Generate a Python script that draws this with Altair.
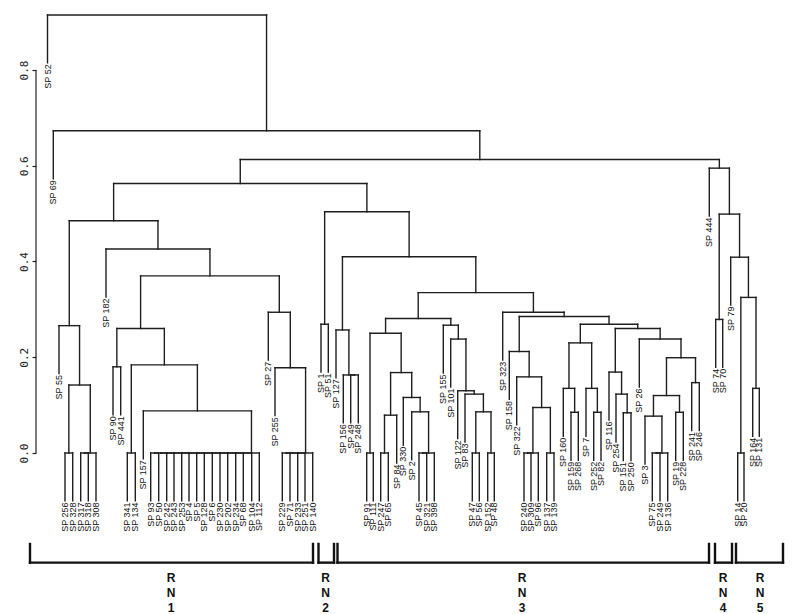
import altair as alt
import pandas as pd

# ---------------- data ----------------
leaf_names = [
    "SP 52", "SP 69", "SP 55", "SP 256", "SP 328", "SP 317", "SP 318", "SP 308",
    "SP 182", "SP 90", "SP 441", "SP 341", "SP 134", "SP 157", "SP 93", "SP 50",
    "SP 242", "SP 243", "SP 253", "SP 4", "SP 5", "SP 128", "SP 6", "SP 230",
    "SP 202", "SP 234", "SP 68", "SP 104", "SP 112", "SP 27", "SP 255", "SP 229",
    "SP 71", "SP 233", "SP 251", "SP 140", "SP 1", "SP 51", "SP 127", "SP 156",
    "SP 49", "SP 248", "SP 91", "SP 111", "SP 247", "SP 65", "SP 84", "SP 330",
    "SP 2", "SP 45", "SP 321", "SP 398", "SP 155", "SP 101", "SP 122", "SP 83",
    "SP 47", "SP 56", "SP 152", "SP 48", "SP 323", "SP 158", "SP 322", "SP 240",
    "SP 309", "SP 96", "SP 137", "SP 139", "SP 160", "SP 159", "SP 268", "SP 7",
    "SP 252", "SP 82", "SP 116", "SP 254", "SP 151", "SP 250", "SP 26", "SP 3",
    "SP 75", "SP 249", "SP 136", "SP 19", "SP 228", "SP 241", "SP 246", "SP 444",
    "SP 74", "SP 70", "SP 79", "SP 14", "SP 20", "SP 164", "SP 131",
]
leaf_pos = [
    47.5, 53.3, 59.0, 65.0, 72.7, 80.7, 88.3, 96.0,
    106.0, 113.0, 120.7, 127.3, 135.3, 143.3, 150.7, 158.7,
    166.7, 174.0, 181.7, 189.0, 196.7, 204.3, 212.3, 220.0,
    227.7, 235.7, 243.3, 251.7, 259.3, 268.3, 275.0, 282.3,
    290.0, 297.7, 305.0, 312.7, 321.0, 328.3, 336.0, 343.3,
    350.7, 358.3, 366.7, 373.3, 380.7, 388.3, 396.7, 403.3,
    411.7, 419.0, 426.7, 434.3, 443.3, 450.7, 457.7, 465.0,
    472.3, 479.3, 487.7, 494.3, 502.7, 509.3, 516.7, 524.0,
    531.0, 538.3, 546.7, 554.0, 563.3, 571.0, 578.3, 586.0,
    593.7, 601.0, 609.0, 616.0, 623.3, 631.0, 639.3, 645.0,
    652.3, 660.0, 667.7, 675.7, 683.3, 691.7, 699.3, 709.3,
    715.7, 722.7, 730.7, 737.7, 744.0, 752.7, 759.3,
]

# merges: (node, left child, right child, height)
merges = [
    ("A1", "SP 256", "SP 328", 0.0),
    ("A2", "SP 317", "SP 318", 0.0),
    ("A3", "A2", "SP 308", 0.0),
    ("A4", "A1", "A3", 0.142),
    ("A5", "SP 55", "A4", 0.266),
    ("A6", "SP 90", "SP 441", 0.180),
    ("A7", "SP 341", "SP 134", 0.0),
    ("B1", "SP 93", "SP 50", 0.0),
    ("B2", "B1", "SP 242", 0.0),
    ("B3", "B2", "SP 243", 0.0),
    ("B4", "B3", "SP 253", 0.0),
    ("B5", "B4", "SP 4", 0.0),
    ("B6", "B5", "SP 5", 0.0),
    ("B7", "B6", "SP 128", 0.0),
    ("B8", "B7", "SP 6", 0.0),
    ("B9", "B8", "SP 230", 0.0),
    ("B10", "B9", "SP 202", 0.0),
    ("B11", "B10", "SP 234", 0.0),
    ("B12", "B11", "SP 68", 0.0),
    ("B13", "B12", "SP 104", 0.0),
    ("B14", "B13", "SP 112", 0.0),
    ("A8", "SP 157", "B14", 0.088),
    ("A9", "A7", "A8", 0.184),
    ("A10", "A6", "A9", 0.260),
    ("C1", "SP 229", "SP 71", 0.0),
    ("C2", "C1", "SP 233", 0.0),
    ("C3", "C2", "SP 251", 0.0),
    ("C4", "C3", "SP 140", 0.0),
    ("A11", "SP 255", "C4", 0.178),
    ("A12", "SP 27", "A11", 0.294),
    ("A13", "A10", "A12", 0.370),
    ("A14", "SP 182", "A13", 0.426),
    ("A15", "A5", "A14", 0.485),
    ("D1", "SP 1", "SP 51", 0.269),
    ("D2", "SP 49", "SP 248", 0.163),
    ("D3", "SP 156", "D2", 0.163),
    ("D4", "SP 127", "D3", 0.257),
    ("D5", "SP 91", "SP 111", 0.0),
    ("D6", "SP 247", "SP 65", 0.0),
    ("D7", "D6", "SP 84", 0.079),
    ("D8", "SP 45", "SP 321", 0.0),
    ("D9", "D8", "SP 398", 0.0),
    ("D10", "SP 2", "D9", 0.086),
    ("D11", "SP 330", "D10", 0.116),
    ("D12", "D7", "D11", 0.168),
    ("D13", "D5", "D12", 0.250),
    ("D14", "SP 47", "SP 56", 0.0),
    ("D15", "SP 152", "SP 48", 0.0),
    ("D16", "D14", "D15", 0.086),
    ("D17", "SP 83", "D16", 0.123),
    ("D18", "SP 122", "D17", 0.130),
    ("D19", "SP 101", "D18", 0.238),
    ("D20", "SP 155", "D19", 0.267),
    ("D21", "D13", "D20", 0.281),
    ("E1", "SP 240", "SP 309", 0.0),
    ("E2", "E1", "SP 96", 0.0),
    ("E3", "SP 137", "SP 139", 0.0),
    ("E4", "E2", "E3", 0.095),
    ("E5", "SP 322", "E4", 0.159),
    ("E6", "SP 158", "E5", 0.212),
    ("F1", "SP 159", "SP 268", 0.085),
    ("F2", "SP 160", "F1", 0.135),
    ("F3", "SP 252", "SP 82", 0.085),
    ("F4", "SP 7", "F3", 0.135),
    ("F5", "F2", "F4", 0.230),
    ("G1", "SP 151", "SP 250", 0.084),
    ("G2", "SP 254", "G1", 0.123),
    ("G3", "SP 116", "G2", 0.169),
    ("H1", "SP 75", "SP 249", 0.0),
    ("H2", "H1", "SP 136", 0.0),
    ("H3", "SP 3", "H2", 0.077),
    ("H4", "SP 19", "SP 228", 0.085),
    ("H5", "H3", "H4", 0.120),
    ("H6", "SP 241", "SP 246", 0.147),
    ("H7", "H5", "H6", 0.199),
    ("H8", "SP 26", "H7", 0.238),
    ("G4", "G3", "H8", 0.260),
    ("F6", "F5", "G4", 0.269),
    ("E7", "E6", "F6", 0.285),
    ("E8", "SP 323", "E7", 0.294),
    ("D22", "D21", "E8", 0.335),
    ("D23", "D4", "D22", 0.410),
    ("D24", "D1", "D23", 0.504),
    ("R1", "A15", "D24", 0.563),
    ("K1", "SP 74", "SP 70", 0.279),
    ("K2", "SP 14", "SP 20", 0.0),
    ("K3", "SP 164", "SP 131", 0.135),
    ("K4", "K2", "K3", 0.325),
    ("K5", "SP 79", "K4", 0.409),
    ("K6", "K1", "K5", 0.499),
    ("K7", "SP 444", "K6", 0.595),
    ("R2", "R1", "K7", 0.613),
    ("R3", "SP 69", "R2", 0.673),
    ("R4", "SP 52", "R3", 0.915),
]

group_ids = ["1", "2", "3", "4", "5"]
group_start = [30, 318.5, 337.5, 715, 736]
group_end = [313, 334, 709, 732, 783]
group_center = [171, 325.5, 522, 723, 760]

axis_ticks = [0.0, 0.2, 0.4, 0.6, 0.8]
hang = 0.1

# ---------------- build segment tables ----------------
leaf_set = set(leaf_names)
node_x = dict(zip(leaf_names, leaf_pos))
node_h = {}
segs, labels = [], []
for node, a, b, h in merges:
    for c in (a, b):
        if c in leaf_set:
            top = h - hang
            labels.append({"x": node_x[c], "y": top, "text": c})
        else:
            top = node_h[c]
        segs.append({"x": node_x[c], "x2": node_x[c], "y": top, "y2": h})
    segs.append({"x": node_x[a], "x2": node_x[b], "y": h, "y2": h})
    node_x[node] = (node_x[a] + node_x[b]) / 2
    node_h[node] = h

seg_df = pd.DataFrame(segs)
lab_df = pd.DataFrame(labels)

b_top, b_line = -0.19, -0.229
brk = []
for s, e in zip(group_start, group_end):
    brk.append({"x": s, "x2": s, "y": b_top, "y2": b_line})
    brk.append({"x": s, "x2": e, "y": b_line, "y2": b_line})
    brk.append({"x": e, "x2": e, "y": b_top, "y2": b_line})
brk_df = pd.DataFrame(brk)

rn_rows = []
for gid, c in zip(group_ids, group_center):
    for txt, yy in (("R", -0.262), ("N", -0.293), (gid, -0.324)):
        rn_rows.append({"x": c, "y": yy, "text": txt})
rn_df = pd.DataFrame(rn_rows)

axis_df = pd.DataFrame({"y": [axis_ticks[0]], "y2": [axis_ticks[-1]]})

# ---------------- scales / axis ----------------
W, H = 756, 606
xs = alt.Scale(domain=[36, 36 + W], nice=False, zero=False)
ys = alt.Scale(domain=[(453 - 614) / 478.75, (453 - 8) / 478.75], nice=False, zero=False)
y_axis = alt.Axis(
    values=axis_ticks, format=".1f", domain=False, grid=False,
    ticks=True, tickSize=4, tickColor="#222", tickWidth=1.2,
    labelAngle=270, labelAlign="center", labelBaseline="bottom",
    labelPadding=3, labelFont="DejaVu Sans Mono", labelFontSize=11,
    labelColor="#222", title=None,
)

X = lambda: alt.X("x:Q", scale=xs, axis=None)
Y = lambda: alt.Y("y:Q", scale=ys, axis=y_axis)

dend = alt.Chart(seg_df).mark_rule(color="#1e1e1e", strokeWidth=1.4, strokeCap="square").encode(
    x=X(), x2="x2:Q", y=Y(), y2="y2:Q",
)

axis_line = alt.Chart(axis_df).mark_rule(color="#222", strokeWidth=1.2).encode(
    x=alt.value(0), y=Y(), y2="y2:Q",
)

leaf_text = alt.Chart(lab_df).mark_text(
    angle=270, align="right", baseline="middle", dx=-1.5,
    font="Liberation Sans", fontSize=9, color="#111",
).encode(x=X(), y=Y(), text="text:N")

brackets = alt.Chart(brk_df).mark_rule(color="#111", strokeWidth=2.4, strokeCap="square").encode(
    x=X(), x2="x2:Q", y=Y(), y2="y2:Q",
)

rn_text = alt.Chart(rn_df).mark_text(
    font="Liberation Sans Narrow, Liberation Sans", fontSize=12, fontWeight="bold",
    align="center", baseline="middle", color="#111",
).encode(x=X(), y=Y(), text="text:N")

chart = alt.layer(dend, axis_line, leaf_text, brackets, rn_text).properties(
    width=W, height=H,
    autosize=alt.AutoSizeParams(type="none"),
    padding={"left": 28, "top": 0, "right": 0, "bottom": 0},
    background="white",
).configure_view(stroke=None)

chart.save("out.html", embed_options={"renderer": "svg", "actions": False})
